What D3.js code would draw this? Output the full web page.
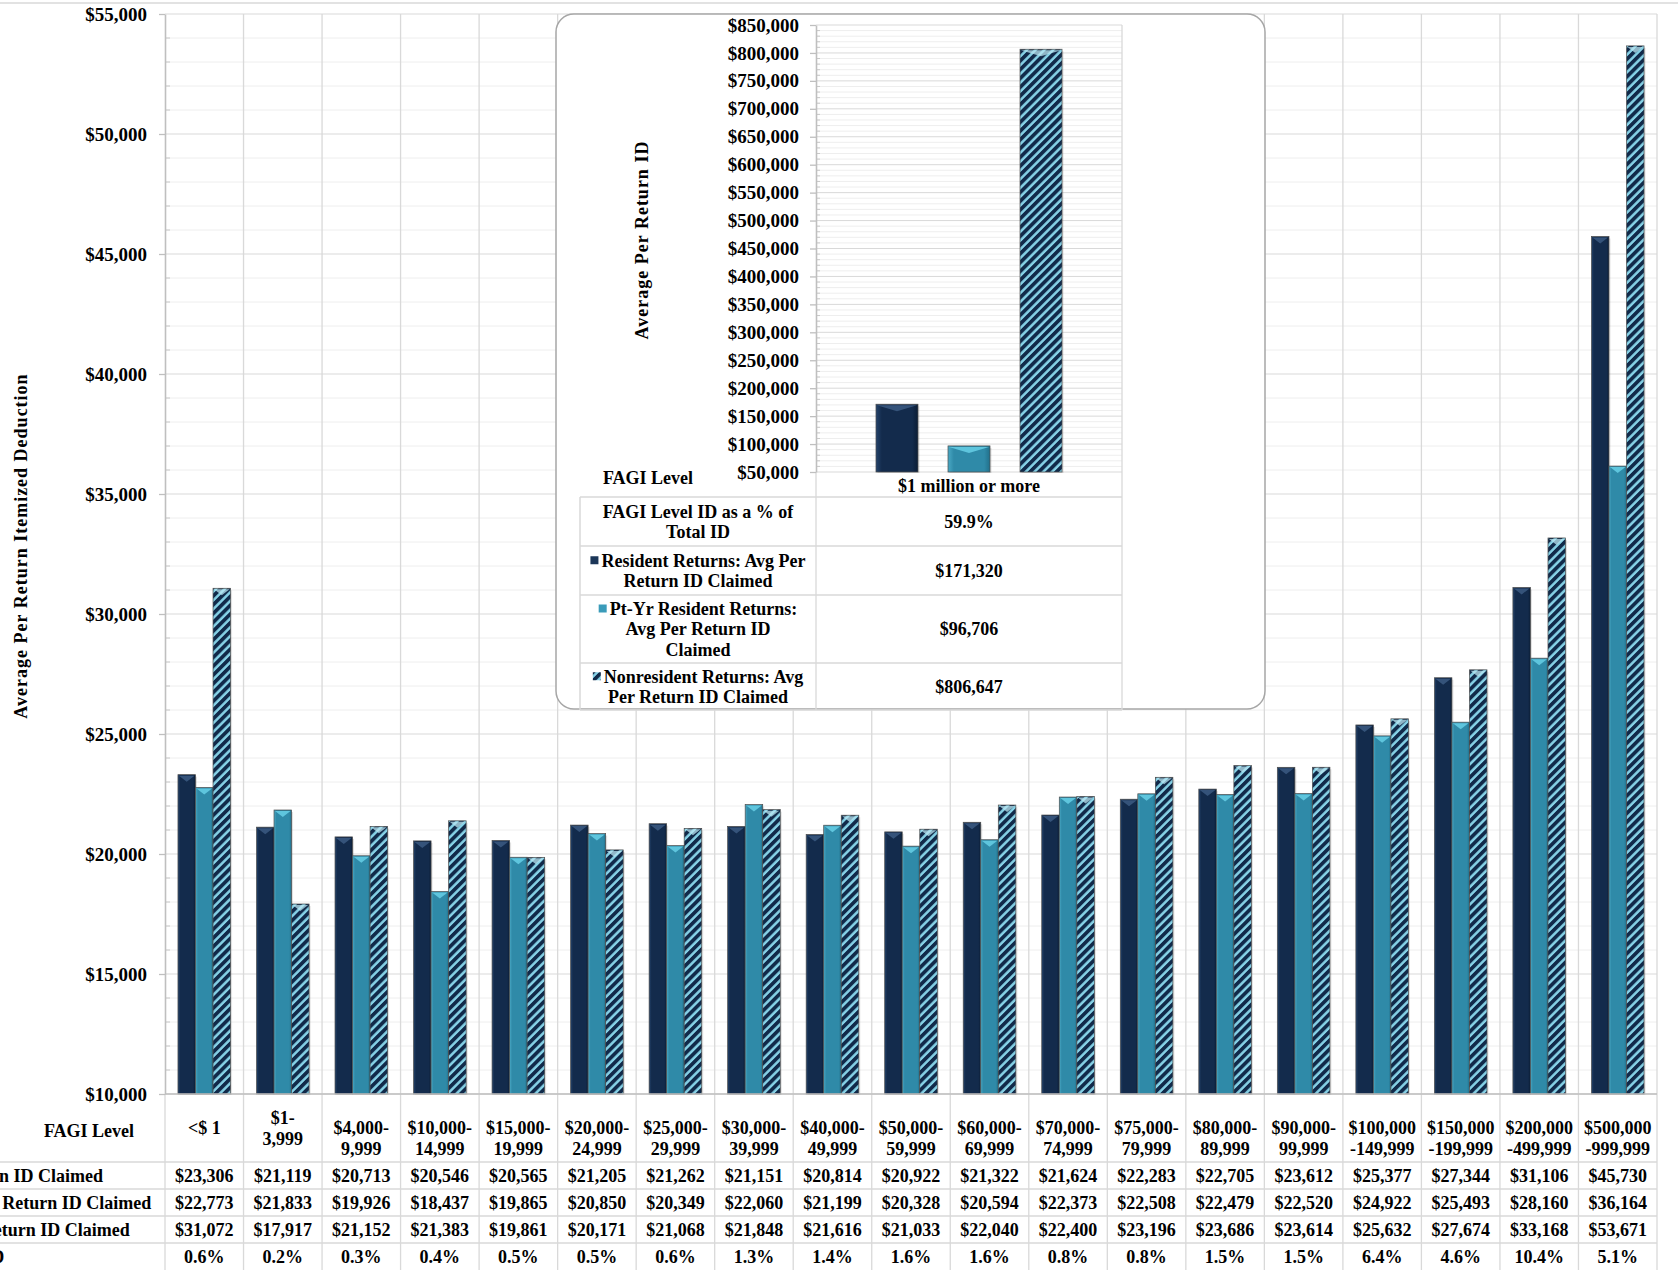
<!DOCTYPE html>
<html>
<head>
<meta charset="utf-8">
<script src="https://cdn.jsdelivr.net/npm/d3@7"></script>
<style>
  body { margin: 0; background: #fff; }
  svg text { font-family: "Liberation Serif", "Times New Roman", serif; font-weight: bold; fill: #000; }
</style>
</head>
<body>
<svg id="chart" width="1678" height="1270"></svg>
<script>
// FAGI level labels as they wrap in the data table header
const fagiLevels = [
    ["<$ 1"], ["$1-", "3,999"], ["", "$4,000-", "9,999"], ["", "$10,000-", "14,999"],
    ["", "$15,000-", "19,999"], ["", "$20,000-", "24,999"], ["", "$25,000-", "29,999"],
    ["", "$30,000-", "39,999"], ["", "$40,000-", "49,999"], ["", "$50,000-", "59,999"],
    ["", "$60,000-", "69,999"], ["", "$70,000-", "74,999"], ["", "$75,000-", "79,999"],
    ["", "$80,000-", "89,999"], ["", "$90,000-", "99,999"], ["", "$100,000", "-149,999"],
    ["", "$150,000", "-199,999"], ["", "$200,000", "-499,999"], ["", "$500,000", "-999,999"]
];
const residentAvg = [23306, 21119, 20713, 20546, 20565, 21205, 21262, 21151, 20814, 20922,
    21322, 21624, 22283, 22705, 23612, 25377, 27344, 31106, 45730];
const partYearAvg = [22773, 21833, 19926, 18437, 19865, 20850, 20349, 22060, 21199, 20328,
    20594, 22373, 22508, 22479, 22520, 24922, 25493, 28160, 36164];
const nonresidentAvg = [31072, 17917, 21152, 21383, 19861, 20171, 21068, 21848, 21616, 21033,
    22040, 22400, 23196, 23686, 23614, 25632, 27674, 33168, 53671];
const pctOfTotal = ["0.6%", "0.2%", "0.3%", "0.4%", "0.5%", "0.5%", "0.6%", "1.3%", "1.4%", "1.6%",
    "1.6%", "0.8%", "0.8%", "1.5%", "1.5%", "6.4%", "4.6%", "10.4%", "5.1%"];
const mainTicks = [10000, 15000, 20000, 25000, 30000, 35000, 40000, 45000, 50000, 55000];

// inset: $1 million or more
const millionLevel = "$1 million or more";
const millionValues = [171320, 96706, 806647];
const millionPct = "59.9%";
const insetTicks = d3.range(50000, 850001, 50000);

const seriesNames = ["Resident Returns: Avg Per Return ID Claimed",
    "Pt-Yr Resident Returns: Avg Per Return ID Claimed",
    "Nonresident Returns: Avg Per Return ID Claimed"];
const pctRowName = "FAGI Level ID as a % of Total ID";
const insetRowNames = [["FAGI Level ID as a % of", "Total ID"],
    ["Resident Returns: Avg Per", "Return ID Claimed"],
    ["Pt-Yr Resident Returns:", "Avg Per Return ID", "Claimed"],
    ["Nonresident Returns: Avg", "Per Return ID Claimed"]];

const W = 1678, H = 1270;
const fmtMoney = d => "$" + d3.format(",")(d);
const gridMajor = "#d9d9d9", gridMinor = "#eeeeee";

const svg = d3.select("#chart");
svg.append("rect").attr("width", W).attr("height", H).attr("fill", "#fff");

// ---- defs: bar fills
const defs = svg.append("defs");
function hGradient(id, c0, c1, c2) {
    const g = defs.append("linearGradient").attr("id", id).attr("x1", 0).attr("x2", 1).attr("y1", 0).attr("y2", 0);
    [[0, c0], [0.14, c1], [0.86, c1], [1, c2]].forEach(s => g.append("stop").attr("offset", s[0]).attr("stop-color", s[1]));
}
hGradient("gradRes", "#24436b", "#132b4c", "#0b1d35");
hGradient("gradPt", "#4aa9c5", "#2f8aa8", "#21708b");
const hatch = defs.append("pattern").attr("id", "hatch").attr("patternUnits", "userSpaceOnUse")
    .attr("width", 6.2).attr("height", 6.2).attr("patternTransform", "rotate(45)");
hatch.append("rect").attr("width", 6.2).attr("height", 6.2).attr("fill", "#86d2e7");
hatch.append("rect").attr("width", 3.7).attr("height", 6.2).attr("fill", "#112a4a");

const seriesStyle = [
    {fill: "url(#gradRes)", bevel: "#42618a", key: "#1b3658"},
    {fill: "url(#gradPt)", bevel: "#6fd8ef", key: "#3a9bb9"},
    {fill: "url(#hatch)", bevel: "#b9e6f2", key: "url(#hatch)"}
];

function drawBars(g, groups, xCat, xSer, y, base) {
    groups.forEach(function(vals, i) {
        vals.forEach(function(v, s) {
            const x0 = xCat(i) + xSer(s), w = xSer.bandwidth();
            const y0 = y(v), h = base - y0;
            g.append("rect").attr("x", x0 + 1.5).attr("y", y0 + 2).attr("width", w).attr("height", h - 1)
                .attr("fill", "#000").attr("opacity", 0.12);
            g.append("rect").attr("x", x0).attr("y", y0).attr("width", w).attr("height", h)
                .attr("fill", seriesStyle[s].fill).attr("stroke", "#4d4d4d").attr("stroke-width", 0.7);
            g.append("polygon")
                .attr("points", [[x0 + 1, y0 + 1], [x0 + w - 1, y0 + 1], [x0 + w / 2, y0 + 7]].map(p => p.join(",")).join(" "))
                .attr("fill", seriesStyle[s].bevel).attr("opacity", 0.75);
        });
    });
}

function multiline(g, lines, x, cy, lh, size) {
    const t = g.append("text").attr("text-anchor", "middle").attr("font-size", size);
    const n = lines.length;
    lines.forEach(function(l, i) {
        t.append("tspan").attr("x", x).attr("y", cy + (i - (n - 1) / 2) * lh).attr("dy", "0.35em").text(l);
    });
    return t;
}

// ================= main chart =================
const y = d3.scaleLinear().domain([10000, 55000]).range([1094, 14]);
const x = d3.scaleBand().domain(d3.range(fagiLevels.length)).range([165, 1657]);
const xs = d3.scaleBand().domain([0, 1, 2]).range([x.bandwidth() * 0.165, x.bandwidth() * 0.835]);

const main = svg.append("g");
// top border of the chart area
main.append("line").attr("x1", 0).attr("x2", W).attr("y1", 3).attr("y2", 3).attr("stroke", gridMajor).attr("stroke-width", 1.5);

const minorVals = d3.range(10000, 55001, 1000).filter(v => v % 5000 !== 0);
main.selectAll(".minor").data(minorVals).enter().append("line")
    .attr("x1", 165).attr("x2", 1657).attr("y1", d => y(d)).attr("y2", d => y(d))
    .attr("stroke", gridMinor);
main.selectAll(".minorTick").data(minorVals).enter().append("line")
    .attr("x1", 165).attr("x2", 170).attr("y1", d => y(d)).attr("y2", d => y(d))
    .attr("stroke", "#c8c8c8");
main.selectAll(".major").data(mainTicks).enter().append("line")
    .attr("x1", 165).attr("x2", 1657).attr("y1", d => y(d)).attr("y2", d => y(d))
    .attr("stroke", gridMajor);
// column lines run through the plot and the data table
main.selectAll(".vgrid").data(d3.range(1, fagiLevels.length + 1)).enter().append("line")
    .attr("x1", d => 165 + d * x.step()).attr("x2", d => 165 + d * x.step())
    .attr("y1", 14).attr("y2", H).attr("stroke", gridMajor).attr("stroke-width", 1.3);
main.append("line").attr("x1", 165).attr("x2", 165).attr("y1", 1094).attr("y2", H).attr("stroke", gridMajor).attr("stroke-width", 1.3);

drawBars(main.append("g"), residentAvg.map((d, i) => [d, partYearAvg[i], nonresidentAvg[i]]), x, xs, y, 1094);

const yAxis = main.append("g").attr("transform", "translate(165,0)")
    .call(d3.axisLeft(y).tickValues(mainTicks).tickFormat(fmtMoney).tickSize(6).tickSizeOuter(0).tickPadding(12));
yAxis.select(".domain").attr("stroke", "#bfbfbf").attr("stroke-width", 1.6);
yAxis.selectAll(".tick line").attr("stroke", "#bfbfbf").attr("stroke-width", 1.3);
yAxis.selectAll(".tick text").attr("font-size", 19).attr("font-family", null);
main.append("line").attr("x1", 165).attr("x2", 1657).attr("y1", 1094).attr("y2", 1094).attr("stroke", "#bfbfbf").attr("stroke-width", 1.3);

main.append("text").attr("transform", "translate(21,546) rotate(-90)").attr("dy", "0.35em")
    .attr("text-anchor", "middle").attr("font-size", 18).attr("letter-spacing", 1)
    .text("Average Per Return Itemized Deduction");

// ---- main data table
const rowLines = [1162, 1189, 1216, 1243];
const table = svg.append("g");
table.selectAll(".row").data(rowLines).enter().append("line")
    .attr("x1", 0).attr("x2", 1657).attr("y1", d => d).attr("y2", d => d)
    .attr("stroke", gridMajor).attr("stroke-width", 1.5);
table.append("text").attr("x", 89).attr("y", 1131).attr("dy", "0.35em").attr("text-anchor", "middle")
    .attr("font-size", 18).text("FAGI Level");
fagiLevels.forEach(function(lines, i) {
    multiline(table, lines, x(i) + x.bandwidth() / 2, 1128, 20.5, 18);
});
const rowValues = [residentAvg.map(fmtMoney), partYearAvg.map(fmtMoney), nonresidentAvg.map(fmtMoney), pctOfTotal];
const rowNames = seriesNames.concat([pctRowName]);
// row headers are left aligned in a column that starts off the left edge
const probe = table.append("text").attr("font-size", 18).text(rowNames[0]);
const labelStart = 103 - probe.node().getComputedTextLength() - 11;
probe.remove();
rowValues.forEach(function(vals, r) {
    const cy = rowLines[r] + 13.5;
    if (r < 3) {
        table.append("rect").attr("x", labelStart).attr("y", cy - 4).attr("width", 8).attr("height", 8)
            .attr("fill", seriesStyle[r].key);
    }
    table.append("text").attr("x", labelStart + 11).attr("y", cy).attr("dy", "0.35em")
        .attr("font-size", 18).text(rowNames[r]);
    vals.forEach(function(v, i) {
        table.append("text").attr("x", x(i) + x.bandwidth() / 2).attr("y", cy).attr("dy", "0.35em")
            .attr("text-anchor", "middle").attr("font-size", 18).text(v);
    });
});

// ================= inset: $1 million or more =================
const inset = svg.append("g");
inset.append("rect").attr("x", 556).attr("y", 14).attr("width", 709).attr("height", 695).attr("rx", 18)
    .attr("fill", "#fff").attr("stroke", "#a6a6a6").attr("stroke-width", 1.5);

const yi = d3.scaleLinear().domain([50000, 850000]).range([472, 25]);
const xi = d3.scaleBand().domain([0]).range([816, 1122]);
const xsi = d3.scaleBand().domain([0, 1, 2]).range([xi.bandwidth() * 0.196, xi.bandwidth() * 0.804]).paddingInner(0.4167);

const minorI = d3.range(50000, 850001, 10000).filter(v => v % 50000 !== 0);
inset.selectAll(".minor").data(minorI).enter().append("line")
    .attr("x1", 816).attr("x2", 1122).attr("y1", d => yi(d)).attr("y2", d => yi(d)).attr("stroke", gridMinor);
inset.selectAll(".minorTick").data(minorI).enter().append("line")
    .attr("x1", 816).attr("x2", 820).attr("y1", d => yi(d)).attr("y2", d => yi(d)).attr("stroke", "#c8c8c8");
inset.selectAll(".major").data(insetTicks).enter().append("line")
    .attr("x1", 816).attr("x2", 1122).attr("y1", d => yi(d)).attr("y2", d => yi(d)).attr("stroke", gridMajor);
inset.append("line").attr("x1", 1122).attr("x2", 1122).attr("y1", 25).attr("y2", 710).attr("stroke", gridMajor).attr("stroke-width", 1.3);
inset.append("line").attr("x1", 816).attr("x2", 816).attr("y1", 472).attr("y2", 710).attr("stroke", gridMajor).attr("stroke-width", 1.3);

drawBars(inset.append("g"), [millionValues], xi, xsi, yi, 472);

const yiAxis = inset.append("g").attr("transform", "translate(816,0)")
    .call(d3.axisLeft(yi).tickValues(insetTicks).tickFormat(fmtMoney).tickSize(6).tickSizeOuter(0).tickPadding(11));
yiAxis.select(".domain").attr("stroke", "#bfbfbf").attr("stroke-width", 1.6);
yiAxis.selectAll(".tick line").attr("stroke", "#bfbfbf").attr("stroke-width", 1.3);
yiAxis.selectAll(".tick text").attr("font-size", 19).attr("font-family", null);

inset.append("text").attr("transform", "translate(642,240) rotate(-90)").attr("dy", "0.35em")
    .attr("text-anchor", "middle").attr("font-size", 18).attr("letter-spacing", 1)
    .text("Average Per Return ID");
inset.append("text").attr("x", 648).attr("y", 478).attr("dy", "0.35em").attr("text-anchor", "middle")
    .attr("font-size", 18).text("FAGI Level");
inset.append("text").attr("x", xi(0) + xi.bandwidth() / 2).attr("y", 486).attr("dy", "0.35em")
    .attr("text-anchor", "middle").attr("font-size", 18).text(millionLevel);

// inset data table
const iRows = [497, 546, 595, 663, 710];
inset.selectAll(".irow").data(iRows).enter().append("line")
    .attr("x1", 580).attr("x2", 1122).attr("y1", d => d).attr("y2", d => d)
    .attr("stroke", gridMajor).attr("stroke-width", 1.5);
inset.append("line").attr("x1", 580).attr("x2", 580).attr("y1", 497).attr("y2", 710).attr("stroke", gridMajor).attr("stroke-width", 1.5);
const iValues = [millionPct].concat(millionValues.map(fmtMoney));
insetRowNames.forEach(function(lines, r) {
    const cy = (iRows[r] + iRows[r + 1]) / 2;
    const cx = 698;
    const t = multiline(inset, lines, cx, cy, 20.5, 18);
    if (r > 0) {
        const first = t.select("tspan");
        const w = first.node().getComputedTextLength();
        first.attr("x", cx + 5.5);
        inset.append("rect").attr("x", cx + 5.5 - w / 2 - 11).attr("y", cy - (lines.length - 1) / 2 * 20.5 - 4)
            .attr("width", 8).attr("height", 8).attr("fill", seriesStyle[r - 1].key);
    }
    inset.append("text").attr("x", xi(0) + xi.bandwidth() / 2).attr("y", cy).attr("dy", "0.35em")
        .attr("text-anchor", "middle").attr("font-size", 18).text(iValues[r]);
});
</script>
</body>
</html>
